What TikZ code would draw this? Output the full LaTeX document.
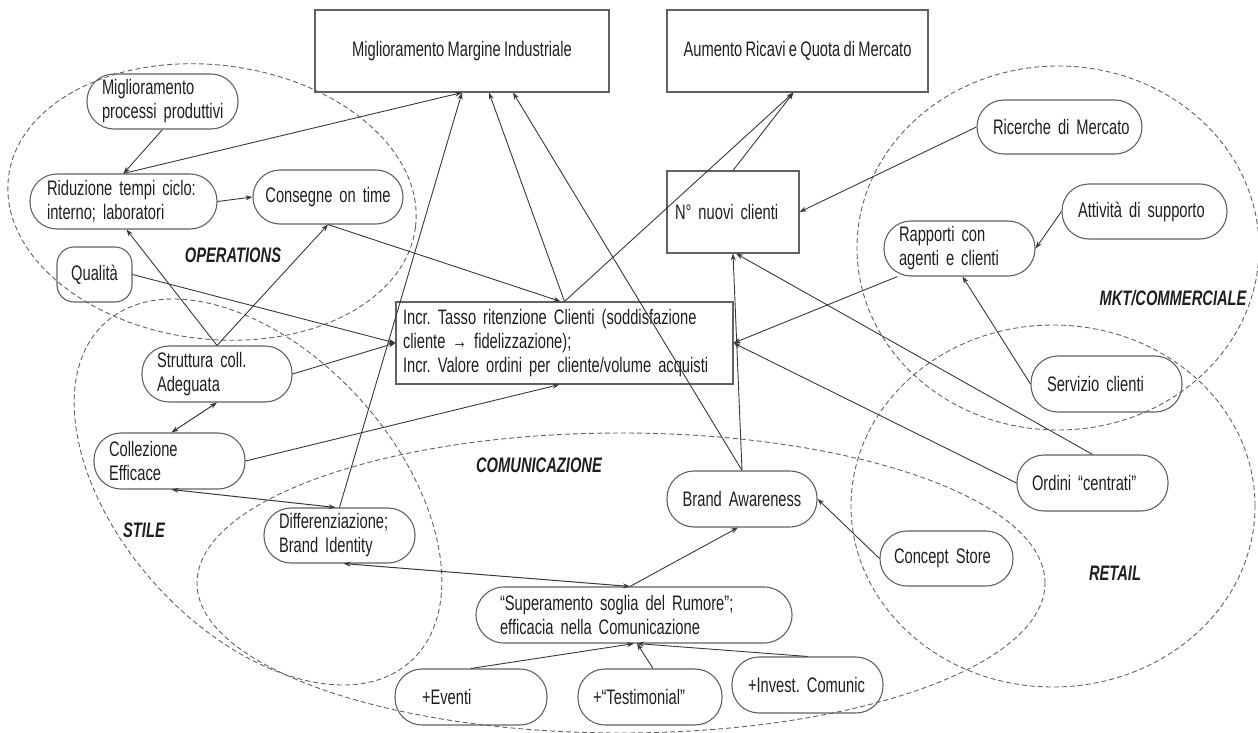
\documentclass[tikz,border=0pt]{standalone}
\usepackage{fontspec}
\setmainfont{Liberation Sans}[FakeStretch=0.70,WordSpace=0.8]
\usetikzlibrary{arrows.meta}
\newcommand{\keepline}[1]{\mbox{#1}}
\begin{document}
\begin{tikzpicture}[x=1pt,y=-1pt,
  every node/.style={font=\fontsize{21}{24}\selectfont\frenchspacing, text=black!88},
  pill/.style={draw=black!62, line width=1.1pt, rounded corners=27pt, align=left, inner ysep=1pt},
  box/.style={draw=black!62, line width=1.1pt, inner sep=0pt},
  tip/.style={-{Stealth[length=7pt,width=5pt]}},
  link/.style={draw=black!78, line width=0.9pt, tip},
  dlink/.style={draw=black!78, line width=1pt, {Stealth[length=7pt,width=5pt]}-{Stealth[length=7pt,width=5pt]}},
  group/.style={draw=black!62, line width=0.9pt, dash pattern=on 5pt off 3pt},
  area/.style={font=\fontsize{21}{24}\selectfont\bfseries\itshape}
]
\useasboundingbox (0,0) rectangle (1258,733);

% functional areas
\draw[group, rotate around={-7:(212,202)}] (212,202) ellipse [x radius=205pt, y radius=137pt];
\draw[group, rotate around={-48:(258,492)}] (258,492) ellipse [x radius=228pt, y radius=138pt];
\draw[group] (621,583) ellipse [x radius=424pt, y radius=150pt];
\draw[group] (1058,248) ellipse [x radius=201pt, y radius=182pt];
\draw[group] (1053,506) ellipse [x radius=202pt, y radius=181pt];

\node[area] (lop) at (233,255) {OPERATIONS};
\node[area] (lcom) at (539,465) {COMUNICAZIONE};
\node[area] (lsti) at (144,530) {STILE};
\node[area] (lmkt) at (1173,298) {MKT/COMMERCIALE};
\node[area] (lret) at (1115,573) {RETAIL};

% goals
\node[box, minimum width=294pt, minimum height=82pt] (marg) at (462,51) {Miglioramento Margine Industriale};
\node[box, minimum width=261pt, minimum height=82pt] (aum) at (797.5,51) {Aumento Ricavi e Quota di Mercato};
\node[box, minimum height=82pt, text width=116pt, inner xsep=8pt, align=left] (nuovi) at (733,212) {\keepline{N° nuovi clienti}};
\node[box, minimum height=82pt, text width=323pt, inner xsep=7pt, align=left] (incr) at (564.5,343)
  {\keepline{Incr. Tasso ritenzione Clienti (soddisfazione}\\\keepline{cliente → fidelizzazione);}\\\keepline{Incr. Valore ordini per cliente/volume acquisti}};

% operations
\node[pill, minimum height=55pt, text width=121pt, inner xsep=15pt] (proc) at (162.5,101.5) {\keepline{Miglioramento}\\\keepline{processi produttivi}};
\node[pill, minimum height=55pt, text width=153pt, inner xsep=17pt] (rid) at (123.5,201.5) {\keepline{Riduzione tempi ciclo:}\\\keepline{interno; laboratori}};
\node[pill, minimum height=54pt, text width=130pt, inner xsep=10pt, align=center] (cons) at (328,197) {\keepline{Consegne on time}};
\node[pill, rounded corners=17pt, minimum height=55pt, text width=61pt, inner xsep=7pt, align=center] (qual) at (94.5,274.5) {Qualità};

% stile
\node[pill, minimum height=56pt, text width=120pt, inner xsep=15pt] (strut) at (217,374) {\keepline{Struttura coll.}\\\keepline{Adeguata}};
\node[pill, minimum height=56pt, text width=121pt, inner xsep=15pt] (coll) at (169.5,461) {Collezione\\Efficace};
\node[pill, minimum height=55pt, text width=121pt, inner xsep=15pt] (diff) at (339.5,535.5) {\keepline{Differenziazione;}\\\keepline{Brand Identity}};

% comunicazione
\node[pill, minimum height=56pt, text width=130pt, inner xsep=10pt, align=center] (ba) at (742,499) {\keepline{Brand Awareness}};
\node[pill, rounded corners=28pt, minimum height=56pt, text width=268pt, inner xsep=24pt] (sup) at (634,615) {\keepline{“Superamento soglia del Rumore”;}\\\keepline{efficacia nella Comunicazione}};
\node[pill, minimum height=56pt, text width=98pt, inner xsep=27pt] (ev) at (471,697) {+Eventi};
\node[pill, minimum height=56pt, text width=114pt, inner xsep=15pt] (test) at (650,697) {+“Testimonial”};
\node[pill, minimum height=56pt, text width=119pt, inner xsep=16pt] (inv) at (807.5,685) {\keepline{+Invest. Comunic}};

% retail
\node[pill, minimum height=55pt, text width=105pt, inner xsep=14pt] (cs) at (946.5,558.5) {\keepline{Concept Store}};
\node[pill, minimum height=56pt, text width=121pt, inner xsep=15pt] (ord) at (1092.5,483) {\keepline{Ordini “centrati”}};

% mkt / commerciale
\node[pill, minimum height=54pt, text width=133pt, inner xsep=16pt] (ric) at (1059.5,127) {\keepline{Ricerche di Mercato}};
\node[pill, minimum height=55pt, text width=133pt, inner xsep=16pt] (att) at (1144.5,211.5) {\keepline{Attività di supporto}};
\node[pill, minimum height=55pt, text width=121pt, inner xsep=15pt] (rap) at (959.5,248.5) {\keepline{Rapporti con}\\\keepline{agenti e clienti}};
\node[pill, minimum height=56pt, text width=119pt, inner xsep=16pt] (serv) at (1106.5,384) {\keepline{Servizio clienti}};

% relations
\draw[link] (proc.south) -- (rid.north);
\draw[link] (rid.north) -- (marg.south);
\draw[link] (diff.north) -- (marg.south);
\draw[link] (incr.north) -- ([xshift=27pt]marg.south);
\draw[link] (ba.north) -- ([xshift=51pt]marg.south);
\draw[link] (incr.north) -- ([xshift=-4pt]aum.south);
\draw[link] (nuovi.north) -- ([xshift=-4pt]aum.south);
\draw[link] (ric.west) -- (nuovi.east);
\draw[link] (ba.north) -- (nuovi.south);
\draw[link] (ord.north) -- ([xshift=3pt]nuovi.south);
\draw[link] (qual.east) -- (incr.west);
\draw[link] (strut.east) -- (incr.west);
\draw[link] (cons.south) -- ([xshift=-4pt]incr.north);
\draw[link] (coll.east) -- ([xshift=-5pt]incr.south);
\draw[link] ([xshift=-62pt]rap.south) -- (incr.east);
\draw[link] (ord.west) -- (incr.east);
\draw[link] (strut.north) -- ([xshift=3pt]rid.south);
\draw[link] (strut.north) -- (cons.south);
\draw[link] (rid.east) -- (cons.west);
\draw[dlink] (strut.south) -- ([xshift=2pt]coll.north);
\draw[dlink] ([xshift=2pt]coll.south) -- ([xshift=-4pt]diff.north);
\draw[dlink] ([xshift=4pt]diff.south) -- ([xshift=-4pt]sup.north);
\draw[link] ([xshift=-4pt]sup.north) -- ([xshift=-4pt]ba.south);
\draw[link] (cs.west) -- (ba.east);
\draw[link] (ev.north) -- (sup.south);
\draw[link] ([xshift=3pt]test.north) -- ([xshift=3pt]sup.south);
\draw[link] (inv.north) -- ([xshift=3pt]sup.south);
\draw[link] (att.west) -- (rap.east);
\draw[link] (serv.west) -- ([xshift=3pt]rap.south);
\end{tikzpicture}
\end{document}
